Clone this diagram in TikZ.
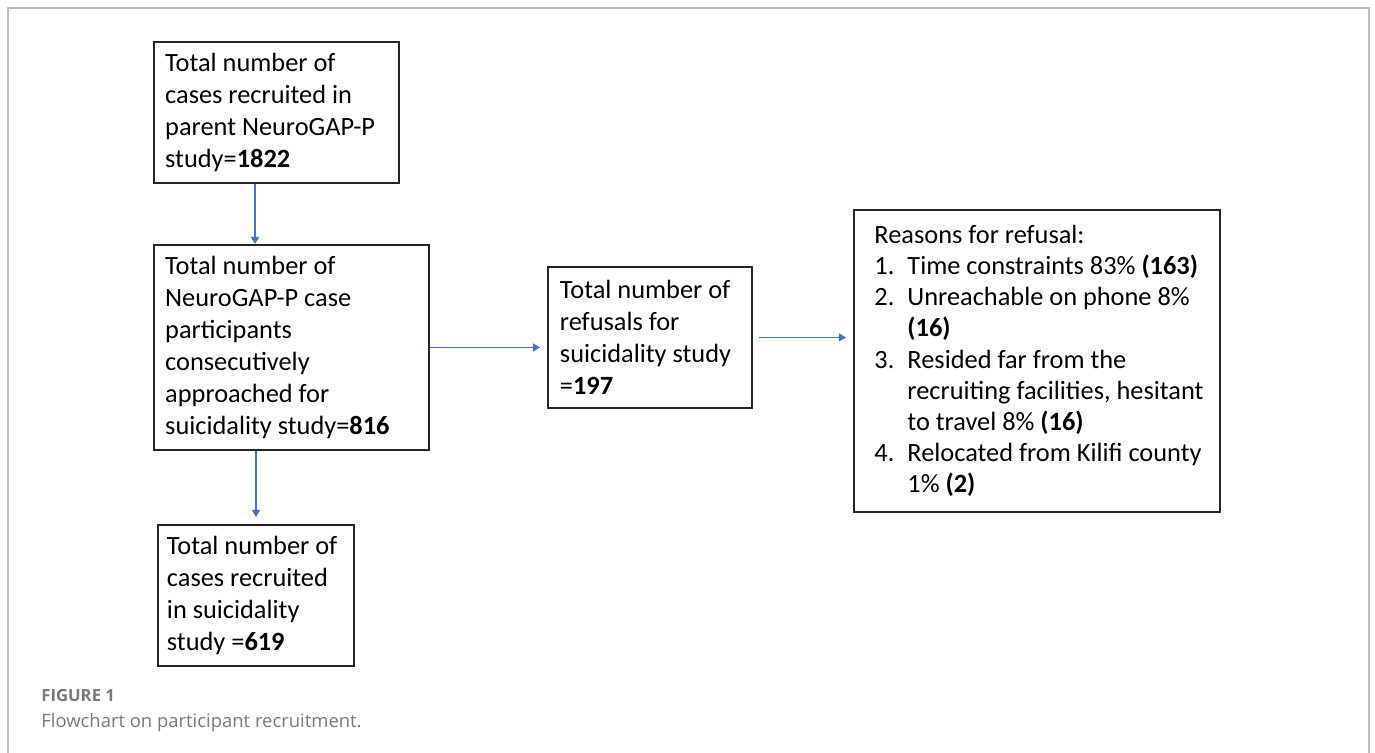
\documentclass[tikz,border=0pt]{standalone}
\usepackage{fontspec}
\setmainfont{Carlito}
\newfontfamily\capfont{Open Sans}
\usetikzlibrary{arrows.meta,positioning}
\definecolor{flowblue}{HTML}{4472C4}
\definecolor{flowdark}{HTML}{262626}
\definecolor{framegray}{HTML}{BDBDBD}
\definecolor{capgray}{HTML}{7A7A7A}
\newcommand{\boxfont}{\fontsize{15pt}{18.3pt}\selectfont}
\newcommand{\itm}[1]{\makebox[0.66cm][l]{#1}}
\tikzset{
  box/.style={draw=flowdark,line width=1.1pt,anchor=north west,align=flush left,inner xsep=0.2cm,inner ysep=0pt,font=\boxfont},
  ar/.style={-{Triangle[length=4pt,width=4.6pt]},draw=flowblue,line width=0.6pt},
  captext/.style={anchor=base west,inner sep=0pt,text=capgray},
}
\begin{document}
\begin{tikzpicture}[x=0.02cm,y=-0.02cm]
    \useasboundingbox (0,0) rectangle (1375,753);
    \draw[framegray,line width=0.9pt] (8,753) -- (8,8) -- (1369,8) -- (1369,753);
    \node[box,minimum width=4.9cm,minimum height=2.82cm,text width=4.45cm] (parent) at (153,41)
      {Total number of\\cases recruited in\\parent NeuroGAP-P\\study=\textbf{1822}};
    \node[box,minimum width=5.5cm,minimum height=4.1cm,text width=5.05cm] (approached) at (153,244)
      {Total number of\\NeuroGAP-P case\\participants\\consecutively\\approached for\\suicidality study=\textbf{816}};
    \node[box,minimum width=4.08cm,minimum height=2.82cm,text width=3.6cm,inner xsep=0.22cm] (refusals) at (547,266)
      {Total number of\\refusals for\\suicidality study\\=\textbf{197}};
    \node[box,minimum width=7.32cm,minimum height=6.04cm,text width=7.1cm,inner xsep=0.1cm,
          font=\fontsize{15pt}{17.7pt}\selectfont] (reasons) at (853,209)
      {\leftskip=0.3cm Reasons for refusal:\\
       \itm{1.}Time constraints 83\% \textbf{(163)}\\
       \itm{2.}Unreachable on phone 8\%\\
       \itm{}\textbf{(16)}\\
       \itm{3.}Resided far from the\\
       \itm{}recruiting facilities, hesitant\\
       \itm{}to travel 8\% \textbf{(16)}\\
       \itm{4.}Relocated from Kilifi county\\
       \itm{}1\% \textbf{(2)}\par};
    \node[box,minimum width=3.92cm,minimum height=2.82cm,text width=3.56cm,inner xsep=0.18cm] (recruited) at (157,524)
      {Total number of\\cases recruited\\in suicidality\\study =\textbf{619}};
    \draw[ar] (parent.south -| 255,0) -- (approached.north -| 255,0);
    \draw[ar,shorten >=4pt] (approached.east) -- (approached.east -| refusals.west);
    \draw[ar,shorten <=3.5pt,shorten >=4pt] (refusals.east) -- (refusals.east -| reasons.west);
    \draw[ar,shorten >=4pt] (approached.south -| 256,0) -- (recruited.north -| 256,0);
    \node[captext,font=\capfont\bfseries\fontsize{9.5pt}{11pt}\selectfont] (figlabel) at (41,701) {FIGURE 1};
    \node[captext,font=\capfont\fontsize{10.5pt}{12pt}\selectfont] (figcaption) at (41,727) {Flowchart on participant recruitment.};
\end{tikzpicture}
\end{document}
